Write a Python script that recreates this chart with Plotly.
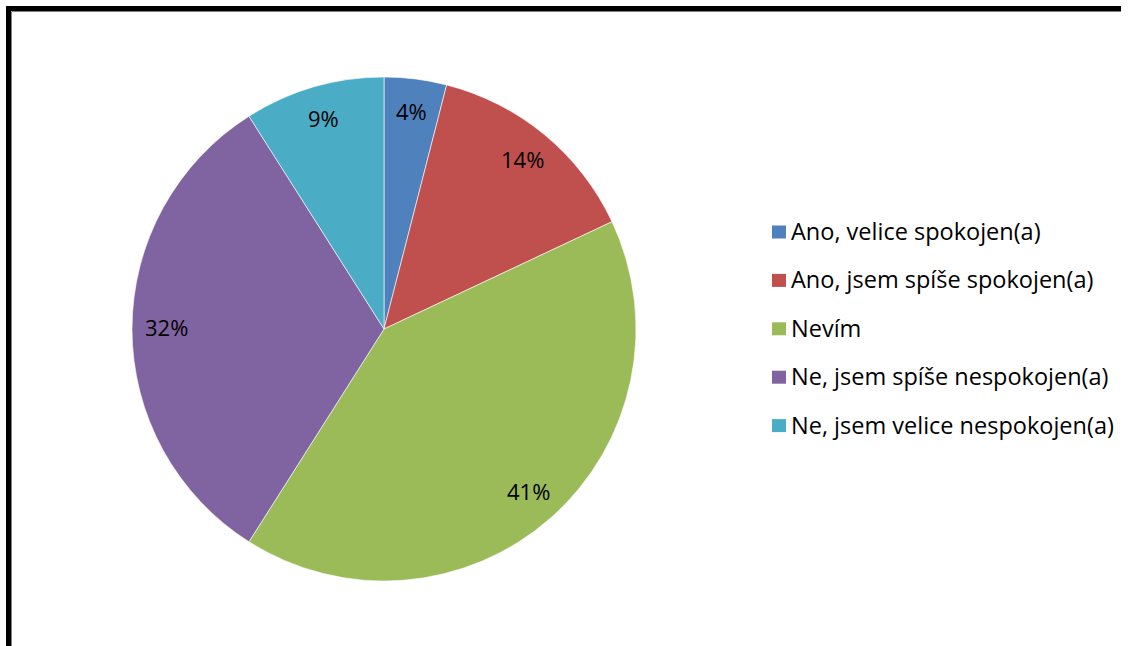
import math
import plotly.graph_objects as go

# Survey answers and their shares (%)
categories = [
    "Ano, velice spokojen(a)",
    "Ano, jsem spíše spokojen(a)",
    "Nevím",
    "Ne, jsem spíše nespokojen(a)",
    "Ne, jsem velice nespokojen(a)",
]
shares = [4, 14, 41, 32, 9]
colors = ["#4F81BD", "#C0504D", "#9BBB59", "#8064A2", "#4BACC6"]

W, H = 1135, 646
FONT = "Open Sans"
FS = 23.5
cx, cy, R = 384, 329, 252  # pie centre and radius in pixels

fig = go.Figure()
fig.add_trace(go.Pie(
    labels=categories,
    values=shares,
    sort=False,
    direction="clockwise",
    rotation=0,
    marker=dict(colors=colors, line=dict(color="rgba(255,255,255,0.6)", width=1)),
    textinfo="none",
    hoverinfo="label+percent",
    showlegend=False,
    domain=dict(x=[(cx - R) / W, (cx + R) / W], y=[1 - (cy + R) / H, 1 - (cy - R) / H]),
))

annotations = []
shapes = []

# percentage labels placed along each slice's mid-angle
total = sum(shares)
cum = 0
for v in shares:
    mid = (cum + v / 2) / total * 2 * math.pi
    cum += v
    r = 0.865 * R
    px = cx + r * math.sin(mid)
    py = cy - r * math.cos(mid) - 2
    annotations.append(dict(
        x=px / W, y=1 - py / H, xref="paper", yref="paper",
        text=f"{round(v / total * 100)}%", showarrow=False,
        font=dict(family=FONT, size=22, color="#000000"),
        xanchor="center", yanchor="middle",
    ))

# legend: swatch + label per category
row0, step = 232, 48.4
for i, (lab, col) in enumerate(zip(categories, colors)):
    yc = row0 + i * step
    shapes.append(dict(
        type="rect", xref="paper", yref="paper",
        x0=772 / W, x1=786 / W, y0=1 - (yc + 6.5) / H, y1=1 - (yc - 6.5) / H,
        fillcolor=col, line=dict(width=0),
    ))
    annotations.append(dict(
        x=789 / W, y=1 - (yc - 1) / H, xref="paper", yref="paper",
        text=lab, showarrow=False, xanchor="left", yanchor="middle",
        font=dict(family=FONT, size=FS, color="#000000"),
    ))

# chart frame: top and left edges
for x0, y0, x1, y1, c, w in [
    (8.5, 8.5, W - 14, 8.5, "#000000", 5),
    (8.5, 6, 8.5, H, "#000000", 5),
    (11.5, 11.5, W - 14, 11.5, "#7f7f7f", 1),
    (11.5, 11.5, 11.5, H, "#7f7f7f", 1),
]:
    shapes.append(dict(
        type="line", xref="paper", yref="paper",
        x0=x0 / W, x1=x1 / W, y0=1 - y0 / H, y1=1 - y1 / H,
        line=dict(color=c, width=w),
    ))

fig.update_layout(
    width=W, height=H,
    margin=dict(l=0, r=0, t=0, b=0),
    paper_bgcolor="#ffffff",
    plot_bgcolor="#ffffff",
    annotations=annotations,
    shapes=shapes,
    font=dict(family=FONT),
)

fig.write_html("out.html", include_plotlyjs=True, full_html=True,
               config={"displayModeBar": False})
